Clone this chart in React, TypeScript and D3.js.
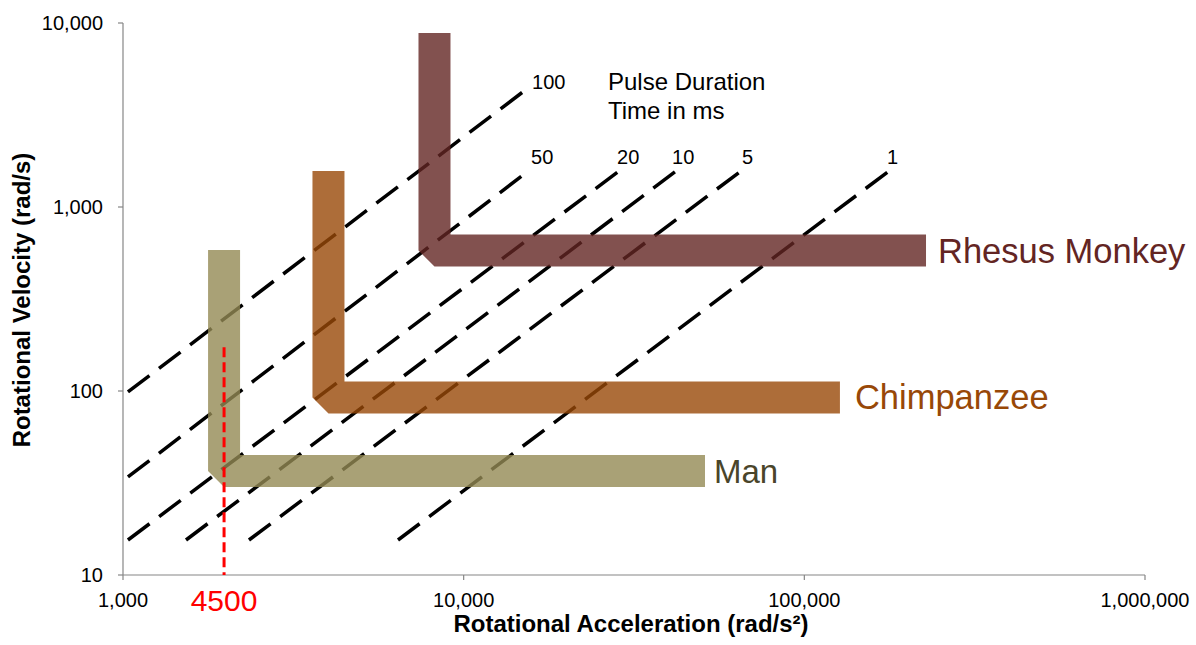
import React, { useEffect } from "react";
import * as d3 from "d3";

// ---- data ----
const xTicks = [1000, 10000, 100000, 1000000];
const yTicks = [10, 100, 1000, 10000];

const durations = ["100", "50", "20", "10", "5", "1"];
const durStartAccel = [1034, 1034, 1034, 1531, 2343, 6416];
const durStartVel = [98.8, 34.1, 15.5, 15.5, 15.5, 15.5];
const durEndAccel = [15450, 15345, 28580, 42010, 65190, 177200];
const durEndVel = [4433, 1549, 1569, 1569, 1569, 1569];

const species = ["Man", "Chimpanzee", "Rhesus Monkey"];
const bandAccel = [1980, 4010, 8210];
const bandTopVel = [584, 1569, 8825];
const bandVel = [36.7, 92.2, 580];
const bandEndAccel = [51100, 127200, 227600];

const markerAccel = 1980;
const markerTopVel = 173;
const markerLabel = "4500";

// ---- styles ----
const FONT = "'Liberation Sans', Arial, Helvetica, sans-serif";
const bandColors = ["#948A54", "#984807", "#632523"];
const labelColors = ["#4A452A", "#984807", "#632523"];
const labelDx = [9, 15, 12];
const labelSize = [33, 34.5, 34.5];
const durLabelOffsets: [number, number][] = [
  [4, 1],
  [4, -8],
  [-2, -7],
  [-4, -7],
  [1, -7],
  [-2, -7],
];

export default function App() {
  useEffect(() => {
    document.body.style.margin = "0";
  }, []);

  const x = d3.scaleLog().domain([1000, 1000000]).range([123, 1145]);
  const y = d3.scaleLog().domain([10, 10000]).range([575, 23]);
  const fmt = d3.format(",");
  const line = d3
    .line<[number, number]>()
    .x((d) => x(d[0]))
    .y((d) => y(d[1]));

  const axisColor = "#868686";

  return (
    <svg
      width={1196}
      height={645}
      style={{ position: "absolute", left: 0, top: 0, display: "block", background: "#fff" }}
      fontFamily={FONT}
    >
      {/* axes */}
      <line x1={x(1000)} x2={x(1000)} y1={y(10000)} y2={y(10)} stroke={axisColor} strokeWidth={1.2} />
      <line x1={x(1000)} x2={x(1000000)} y1={y(10)} y2={y(10)} stroke={axisColor} strokeWidth={1.2} />
      {yTicks.map((t) => (
        <g key={"y" + t}>
          <line x1={x(1000) - 5} x2={x(1000)} y1={y(t)} y2={y(t)} stroke={axisColor} strokeWidth={1.2} />
          <text x={103} y={y(t) + 7} textAnchor="end" fontSize={20} fill="#000">
            {fmt(t)}
          </text>
        </g>
      ))}
      {xTicks.map((t) => (
        <g key={"x" + t}>
          <line x1={x(t)} x2={x(t)} y1={y(10)} y2={y(10) + 5} stroke={axisColor} strokeWidth={1.2} />
          <text x={x(t)} y={607} textAnchor="middle" fontSize={20} fill="#000">
            {fmt(t)}
          </text>
        </g>
      ))}

      {/* axis titles */}
      <text x={631} y={632} textAnchor="middle" fontSize={24} fontWeight="bold" fill="#000">
        Rotational Acceleration (rad/s²)
      </text>
      <text
        transform={`translate(30,300) rotate(-90)`}
        textAnchor="middle"
        fontSize={24}
        fontWeight="bold"
        fill="#000"
      >
        Rotational Velocity (rad/s)
      </text>

      {/* pulse duration lines */}
      {durations.map((d, i) => (
        <path
          key={"dl" + d}
          d={line([
            [durStartAccel[i], durStartVel[i]],
            [durEndAccel[i], durEndVel[i]],
          ]) as string}
          stroke="#000"
          strokeWidth={3.5}
          strokeDasharray="27 12"
          fill="none"
        />
      ))}
      {durations.map((d, i) => (
        <text
          key={"dt" + d}
          x={x(durEndAccel[i]) + durLabelOffsets[i][0]}
          y={y(durEndVel[i]) + durLabelOffsets[i][1]}
          fontSize={20}
          fill="#000"
        >
          {d}
        </text>
      ))}
      <text x={608} y={90} fontSize={24} fill="#000">
        Pulse Duration
      </text>
      <text x={608} y={119} fontSize={24} fill="#000">
        Time in ms
      </text>

      {/* species bands */}
      {species.map((s, i) => (
        <path
          key={"b" + s}
          d={line([
            [bandAccel[i], bandTopVel[i]],
            [bandAccel[i], bandVel[i]],
            [bandEndAccel[i], bandVel[i]],
          ]) as string}
          stroke={bandColors[i]}
          strokeOpacity={0.8}
          strokeWidth={32}
          strokeLinejoin="bevel"
          strokeLinecap="butt"
          fill="none"
        />
      ))}
      {species.map((s, i) => (
        <text
          key={"l" + s}
          x={x(bandEndAccel[i]) + labelDx[i]}
          y={y(bandVel[i]) + 12}
          fontSize={labelSize[i]}
          fill={labelColors[i]}
        >
          {s}
        </text>
      ))}

      {/* marker */}
      <line
        x1={x(markerAccel)}
        x2={x(markerAccel)}
        y1={y(markerTopVel)}
        y2={y(10)}
        stroke="#FF0000"
        strokeWidth={3}
        strokeDasharray="10 5"
      />
      <text x={x(markerAccel)} y={611} textAnchor="middle" fontSize={30} fill="#FF0000">
        {markerLabel}
      </text>
    </svg>
  );
}
